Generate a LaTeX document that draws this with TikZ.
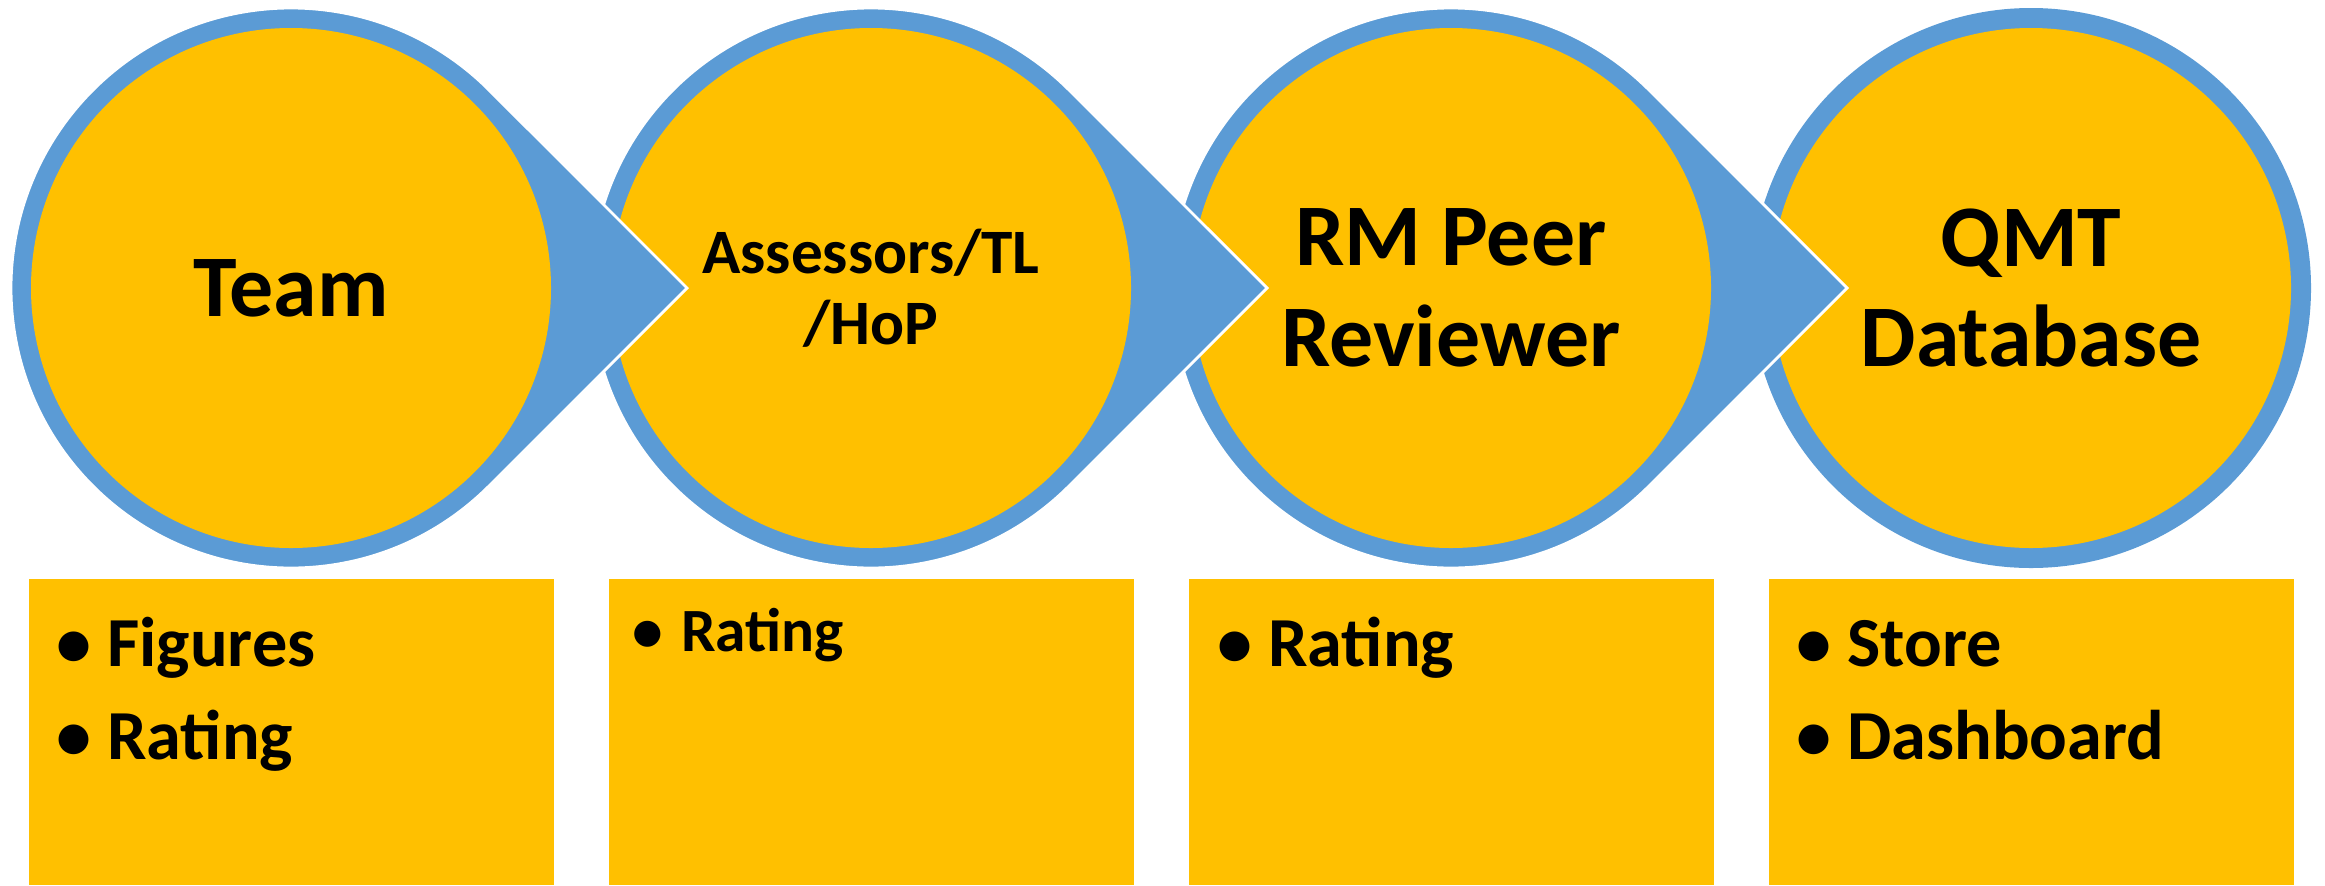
\documentclass[tikz,border=0pt]{standalone}
\usepackage{fontspec}
\setmainfont{Carlito}
\usepackage{tikz}
\usetikzlibrary{calc, positioning}
\definecolor{stagegold}{HTML}{FFC000}
\definecolor{stageblue}{HTML}{5B9BD5}
\tikzset {
    disc/.style = {
        shape = circle,
        fill = stagegold,
        minimum size = 5.2cm,
        inner sep = 0pt,
        outer sep = 0pt,
        align = center,
        font = {\fontsize{25}{28.7}\selectfont\bfseries}
    },
    drop/.style = {
        fill = stageblue,
        draw = white,
        line width = 0.8pt
    },
    box/.style = {
        shape = rectangle,
        fill = stagegold,
        minimum width = 5.25cm,
        minimum height = 3.06cm,
        inner sep = 0pt,
        outer sep = 0pt
    },
    item/.style = {
        anchor = base west,
        inner sep = 0pt,
        font = {\fontsize{20}{24}\selectfont\bfseries},
        execute at begin node = {\llap{\makebox[0.66cm]{•}}}
    }
}

\begin{document}
\begin{tikzpicture}
        \useasboundingbox (0,0) rectangle (23.25,8.85);

        % Centres of the four stages, left to right
        \coordinate (c1) at (2.91,5.97);
        \coordinate [right=5.8cm of c1] (c2);
        \coordinate [right=5.8cm of c2] (c3);
        \coordinate [right=5.8cm of c3] (c4);

        % Stages drawn right to left : each arrow tip lies over the next stage
        \fill [stageblue] (c4) circle (2.8);
        \node [disc] at (c4) (qmt) {QMT\\Database};

        \path [drop] ($(c3)+(45:2.8)$) -- ($(c3)+(3.96,0)$) -- ($(c3)+(-45:2.8)$)
            arc [start angle=-45, end angle=-315, radius=2.8] -- cycle;
        \node [disc] at (c3) (peer) {RM Peer\\Reviewer};

        \path [drop] ($(c2)+(45:2.8)$) -- ($(c2)+(3.96,0)$) -- ($(c2)+(-45:2.8)$)
            arc [start angle=-45, end angle=-315, radius=2.8] -- cycle;
        \node [disc, font={\fontsize{18}{20.2}\selectfont\bfseries}] at (c2) (assess) {Assessors/TL\\/HoP};

        \path [drop] ($(c1)+(45:2.8)$) -- ($(c1)+(3.96,0)$) -- ($(c1)+(-45:2.8)$)
            arc [start angle=-45, end angle=-315, radius=2.8] -- cycle;
        \node [disc] at (c1) (team) {Team};

        % Boxes under the stages
        \node [box, below=0.31cm of team]   (teambox)   {};
        \node [box, below=0.31cm of assess] (assessbox) {};
        \node [box, below=0.31cm of peer]   (peerbox)   {};
        \node [box, below=0.31cm of qmt]    (qmtbox)    {};

        % Bullet points
        \node [item] at ($(teambox.north west)+(0.78,-0.87)$)  (figures)  {Figures};
        \node [item] at ($(figures.base west)+(0,-0.93)$)      (rating1)  {Rating};
        \node [item, font={\fontsize{17.5}{21}\selectfont\bfseries}]
            at ($(assessbox.north west)+(0.72,-0.72)$)          (rating2)  {Rating};
        \node [item] at ($(peerbox.north west)+(0.79,-0.87)$)  (rating3)  {Rating};
        \node [item] at ($(qmtbox.north west)+(0.78,-0.87)$)   (store)    {Store};
        \node [item] at ($(store.base west)+(0,-0.93)$)        (dashboard) {Dashboard};
    \end{tikzpicture}
\end{document}
